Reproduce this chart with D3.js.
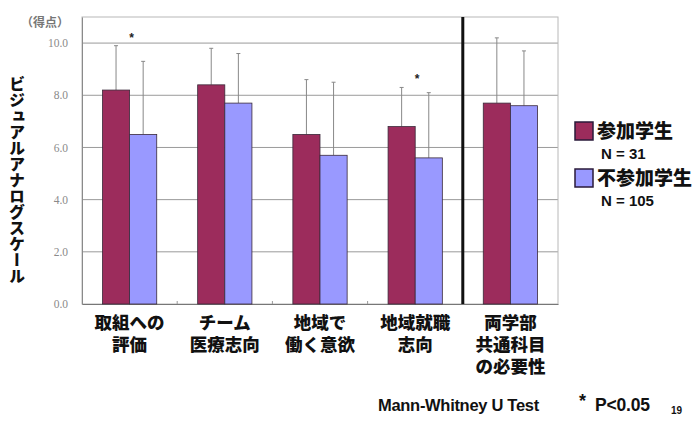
<!DOCTYPE html>
<html>
<head>
<meta charset="utf-8">
<script src="https://cdn.jsdelivr.net/npm/d3@7"></script>
<style>
  html, body { margin: 0; padding: 0; background: #fff; }
  svg { display: block; }
</style>
</head>
<body>
<svg id="chart" width="694" height="426"></svg>
<script>
// Survey items (label lines) and two student groups
const categories = ["取組への\n評価", "チーム\n医療志向", "地域で\n働く意欲", "地域就職\n志向", "両学部\n共通科目\nの必要性"];
const seriesNames = ["参加学生", "不参加学生"];
const seriesN = ["N = 31", "N = 105"];
const meanJoined = [8.2, 8.4, 6.5, 6.8, 7.7];
const meanNotJoined = [6.5, 7.7, 5.7, 5.6, 7.6];
const sdJoined = [1.7, 1.4, 2.1, 1.5, 2.5];
const sdNotJoined = [2.8, 1.9, 2.8, 2.5, 2.1];
const significant = [true, false, false, true, false];
const yTicks = [0, 2, 4, 6, 8, 10];
const colors = ["#9c2c5c", "#9999ff"];

const svg = d3.select("#chart");
const font = "'Noto Sans CJK JP', 'Noto Sans', sans-serif";
const labelFont = "'Liberation Sans', 'Noto Sans CJK JP', sans-serif";
const latin = "'Liberation Sans', Arial, sans-serif";

const plot = { left: 82, right: 558, top: 17, bottom: 304 };

const x = d3.scaleBand().domain(categories).range([plot.left, plot.right]).padding(0);
const bw = x.bandwidth();
const x1 = d3.scaleBand().domain(seriesNames).range([bw * 0.215, bw * 0.785]).padding(0);
const y = d3.scaleLinear().domain([0, 11]).range([plot.bottom, plot.top]);

// gridlines
svg.append("g").selectAll("line").data(yTicks.filter(d => d > 0)).join("line")
  .attr("x1", plot.left).attr("x2", plot.right)
  .attr("y1", d => y(d)).attr("y2", d => y(d))
  .attr("stroke", "#9a9a9a").attr("stroke-width", 1);

// frame
svg.append("rect")
  .attr("x", plot.left).attr("y", plot.top)
  .attr("width", plot.right - plot.left).attr("height", plot.bottom - plot.top)
  .attr("fill", "none").attr("stroke", "#b8b8b8").attr("stroke-width", 1);

// y axis
const yAxis = d3.axisLeft(y).tickValues(yTicks).tickSize(0).tickPadding(14)
  .tickFormat(d3.format(".1f"));
const gy = svg.append("g").attr("transform", `translate(${plot.left},0)`).call(yAxis);
gy.select(".domain").attr("stroke", "#8a8a8a");
gy.selectAll("text").attr("fill", "#8a8a8a").attr("font-size", 11.5)
  .attr("font-family", "'Liberation Serif', serif");

// x axis
const xAxis = d3.axisBottom(x).tickSize(0).tickFormat("");
const gx = svg.append("g").attr("transform", `translate(0,${plot.bottom})`).call(xAxis);
gx.select(".domain").attr("stroke", "#777");
svg.append("g").selectAll("line").data(categories.slice(1)).join("line")
  .attr("x1", d => x(d)).attr("x2", d => x(d))
  .attr("y1", plot.bottom).attr("y2", plot.bottom - 3)
  .attr("stroke", "#999");

// category labels, one text per line
categories.forEach(c => {
  c.split("\n").forEach((line, i) => {
    svg.append("text")
      .attr("x", x(c) + bw / 2).attr("y", plot.bottom + 25 + i * 22)
      .attr("text-anchor", "middle").attr("font-family", labelFont)
      .attr("font-weight", 900).attr("font-size", 17.5).attr("fill", "#111")
      .text(line);
  });
});

// bars and error bars
const rows = categories.map((c, i) => ({
  cat: c,
  vals: [
    { name: seriesNames[0], mean: meanJoined[i], sd: sdJoined[i], color: colors[0] },
    { name: seriesNames[1], mean: meanNotJoined[i], sd: sdNotJoined[i], color: colors[1] }
  ]
}));

const groups = svg.append("g").selectAll("g").data(rows).join("g")
  .attr("transform", d => `translate(${x(d.cat)},0)`);

groups.selectAll("line.err").data(d => d.vals).join("line")
  .attr("class", "err")
  .attr("x1", d => x1(d.name) + x1.bandwidth() / 2)
  .attr("x2", d => x1(d.name) + x1.bandwidth() / 2)
  .attr("y1", d => y(d.mean)).attr("y2", d => y(d.mean + d.sd))
  .attr("stroke", "#888").attr("stroke-width", 1);

groups.selectAll("line.cap").data(d => d.vals).join("line")
  .attr("class", "cap")
  .attr("x1", d => x1(d.name) + x1.bandwidth() / 2 - 2)
  .attr("x2", d => x1(d.name) + x1.bandwidth() / 2 + 2)
  .attr("y1", d => y(d.mean + d.sd)).attr("y2", d => y(d.mean + d.sd))
  .attr("stroke", "#888").attr("stroke-width", 1);

groups.selectAll("rect").data(d => d.vals).join("rect")
  .attr("x", d => x1(d.name)).attr("width", x1.bandwidth())
  .attr("y", d => y(d.mean)).attr("height", d => y(0) - y(d.mean))
  .attr("fill", d => d.color).attr("stroke", "#3a2a3a").attr("stroke-width", 0.8);

// significance marks above the group
rows.forEach((r, i) => {
  if (!significant[i]) return;
  const top = Math.max(r.vals[0].mean + r.vals[0].sd, r.vals[1].mean + r.vals[1].sd);
  svg.append("text")
    .attr("x", x(r.cat) + bw / 2 + 2).attr("y", y(top) - 4)
    .attr("text-anchor", "middle").attr("font-family", latin)
    .attr("font-weight", "bold").attr("font-size", 12).attr("fill", "#222")
    .text("*");
});

// divider before the shared-subject item
svg.append("line")
  .attr("x1", x(categories[4])).attr("x2", x(categories[4]))
  .attr("y1", plot.top).attr("y2", plot.bottom)
  .attr("stroke", "#111").attr("stroke-width", 3);

// unit label
svg.append("text").attr("x", 69).attr("y", 27).attr("text-anchor", "end")
  .attr("font-family", font).attr("font-weight", "bold").attr("font-size", 12)
  .attr("fill", "#777").text("（得点）");

// y title, vertical
svg.append("text")
  .attr("x", 17).attr("y", 76)
  .attr("font-family", font).attr("font-weight", 900).attr("font-size", 16)
  .attr("fill", "#111")
  .style("writing-mode", "vertical-rl")
  .style("text-orientation", "upright")
  .text("ビジュアルアナログスケール");

// legend
seriesNames.forEach((name, i) => {
  const ly = 122 + i * 47;
  svg.append("rect").attr("x", 575).attr("y", ly).attr("width", 18).attr("height", 18)
    .attr("fill", colors[i]).attr("stroke", "#2a1a3a").attr("stroke-width", 1.5);
  svg.append("text").attr("x", 597).attr("y", ly + 16)
    .attr("font-family", font).attr("font-weight", 900).attr("font-size", 19)
    .attr("fill", "#111").text(name);
  svg.append("text").attr("x", 601).attr("y", ly + 37)
    .attr("font-family", latin).attr("font-weight", "bold")
    .attr("font-size", 15).attr("fill", "#111").text(seriesN[i]);
});

// footnote
svg.append("text").attr("x", 378).attr("y", 411)
  .attr("font-family", latin).attr("font-weight", "bold")
  .attr("font-size", 16.5).attr("letter-spacing", -0.3).attr("fill", "#111")
  .text("Mann-Whitney U Test");
svg.append("text").attr("x", 579).attr("y", 407)
  .attr("font-family", latin).attr("font-weight", "bold")
  .attr("font-size", 18).attr("fill", "#111").text("*");
svg.append("text").attr("x", 595).attr("y", 411)
  .attr("font-family", latin).attr("font-weight", "bold")
  .attr("font-size", 17.5).attr("letter-spacing", -0.2).attr("fill", "#111")
  .text("P<0.05");
svg.append("text").attr("x", 671).attr("y", 414)
  .attr("font-family", latin).attr("font-weight", "bold")
  .attr("font-size", 10).attr("fill", "#111").text("19");
</script>
</body>
</html>
